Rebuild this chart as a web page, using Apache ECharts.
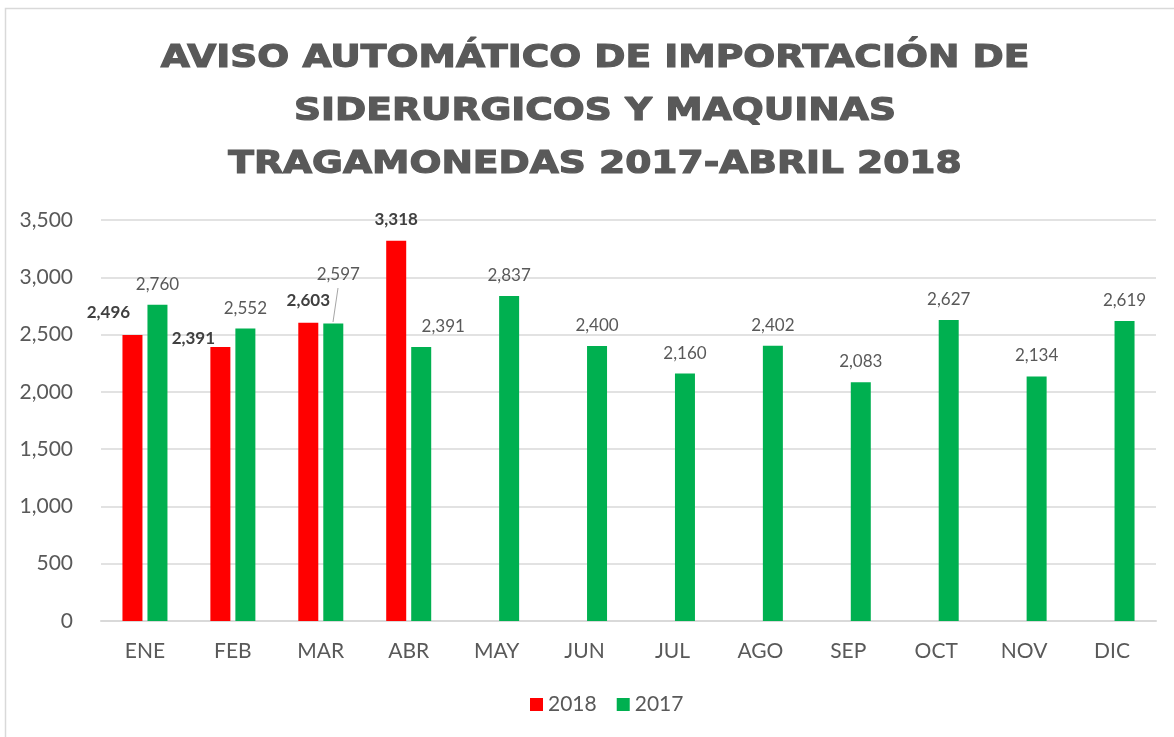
<!DOCTYPE html>
<html lang="es">
<head>
    <meta charset="utf-8">
    <title>Aviso automatico</title>
    <script src="https://cdn.jsdelivr.net/npm/echarts@6/dist/echarts.min.js"></script>
</head>
<body style="margin:0;background:#fff;">
<div id="main" style="width:1174px;height:737px;"></div>
<script type="text/javascript">
    // datos
    var meses = ['ENE', 'FEB', 'MAR', 'ABR', 'MAY', 'JUN', 'JUL', 'AGO', 'SEP', 'OCT', 'NOV', 'DIC'];
    var valores2018 = [2496, 2391, 2603, 3318, null, null, null, null, null, null, null, null];
    var valores2017 = [2760, 2552, 2597, 2391, 2837, 2400, 2160, 2402, 2083, 2627, 2134, 2619];
    var ticksY = [0, 500, 1000, 1500, 2000, 2500, 3000, 3500];
    var titulo = 'AVISO AUTOMÁTICO DE IMPORTACIÓN DE\nSIDERURGICOS Y MAQUINAS\nTRAGAMONEDAS 2017-ABRIL 2018';

    // desplazamiento de etiquetas (como en el original)
    var offset2018 = [[-24, -2], [-27, 12], [0, -2], [0, -1]];
    var offset2017 = { 2: [5, -28], 3: [22, 0] };

    var fmt = function (v) {
        return v.toLocaleString('en-US');
    };

    var datos2018 = valores2018.map(function (v, i) {
        if (v == null) return null;
        return { value: v, label: { offset: offset2018[i] || [0, 0] } };
    });
    var datos2017 = valores2017.map(function (v, i) {
        if (offset2017[i]) {
            return { value: v, label: { offset: offset2017[i] } };
        }
        return v;
    });

    var myChart = echarts.init(document.getElementById('main'));
    var option = {
        animation: false,
        backgroundColor: '#fff',
        graphic: [{
            type: 'rect',
            shape: { x: 5.5, y: 8.5, width: 1200, height: 800 },
            style: { fill: 'none', stroke: '#d9d9d9', lineWidth: 1.5 },
            silent: true
        }, {
            // titulo (ensanchado para parecerse a la fuente original)
            type: 'text',
            x: 595,
            y: 32,
            scaleX: 1.175,
            silent: true,
            style: {
                text: titulo,
                align: 'center',
                verticalAlign: 'top',
                fontFamily: 'DejaVu Sans',
                fontWeight: 'bold',
                fontSize: 32,
                lineHeight: 53,
                fill: '#595959',
                stroke: '#595959',
                lineWidth: 1.2
            }
        }, {
            // linea guia de la etiqueta 2,597
            type: 'line',
            shape: { x1: 338, y1: 288, x2: 333, y2: 322 },
            style: { stroke: '#a6a6a6', lineWidth: 1 },
            silent: true
        }],
        legend: {
            bottom: 17,
            left: 525,
            itemWidth: 13,
            itemHeight: 13,
            itemGap: 20,
            icon: 'rect',
            textStyle: { fontFamily: 'Lato', fontSize: 21, color: '#595959' },
            data: ['2018', '2017']
        },
        grid: {
            left: 101,
            right: 18,
            top: 220,
            bottom: 116
        },
        xAxis: {
            type: 'category',
            data: meses,
            axisTick: { show: false },
            axisLine: { lineStyle: { color: '#d9d9d9', width: 2 } },
            axisLabel: { fontFamily: 'Lato', fontSize: 21, color: '#595959', margin: 20 }
        },
        yAxis: {
            type: 'value',
            min: ticksY[0],
            max: ticksY[ticksY.length - 1],
            interval: 500,
            axisLine: { show: false },
            axisTick: { show: false },
            splitLine: { lineStyle: { color: '#d9d9d9', width: 1.5 } },
            axisLabel: {
                fontFamily: 'Lato', fontSize: 21, color: '#595959', margin: 28,
                formatter: function (v) { return fmt(v); }
            }
        },
        series: [{
            name: '2018',
            type: 'bar',
            data: datos2018,
            barWidth: 20,
            barGap: '25%',
            itemStyle: { color: '#ff0000' },
            label: {
                show: true,
                position: 'top',
                distance: 12,
                fontFamily: 'Lato',
                fontWeight: 'bold',
                fontSize: 17,
                color: '#404040',
                formatter: function (p) { return fmt(p.value); }
            }
        }, {
            name: '2017',
            type: 'bar',
            data: datos2017,
            barWidth: 20,
            itemStyle: { color: '#00b050' },
            label: {
                show: true,
                position: 'top',
                distance: 12,
                fontFamily: 'Lato',
                fontSize: 17,
                color: '#595959',
                formatter: function (p) { return fmt(p.value); }
            }
        }]
    };
    myChart.setOption(option);
</script>
</body>
</html>
